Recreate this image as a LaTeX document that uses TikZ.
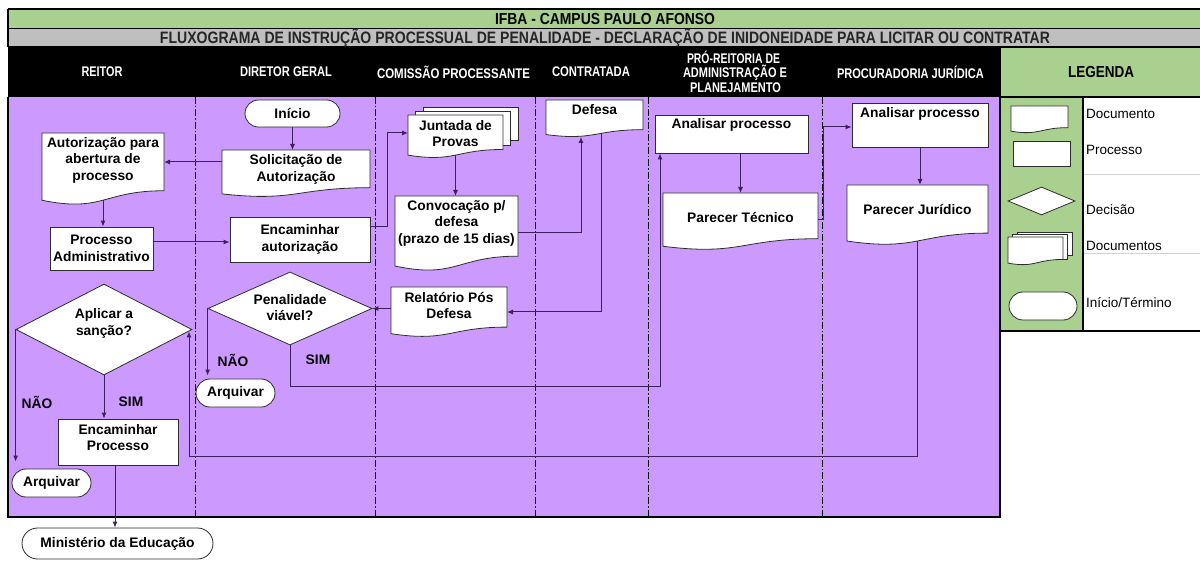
\documentclass[tikz,border=0pt]{standalone}
\usepackage{fontspec}
\setmainfont{Liberation Sans}
\usepackage{graphicx}
\usetikzlibrary{shapes.geometric,shapes.misc,arrows.meta,calc}
\definecolor{tgreen}{RGB}{169,208,142}
\definecolor{tgray}{RGB}{191,191,191}
\definecolor{tpurple}{RGB}{204,153,255}
\definecolor{conn}{RGB}{62,32,92}
\definecolor{outl}{RGB}{45,45,45}
\pgfdeclarelayer{bg}\pgfdeclarelayer{shp}\pgfsetlayers{bg,shp,main}
\newcommand\nf{\fontsize{13.8}{16.5}\selectfont\bfseries}
\newcommand\hf{\fontsize{14}{16}\selectfont\bfseries}
\newcommand\lf{\fontsize{13.5}{15}\selectfont}
\newcommand\docoutline[1]{%
  \path[docline] (#1.north west) -- (#1.north east) -- ($(#1.north east)!0.802!(#1.south east)$)
    .. controls ($(#1.north)!0.802!(#1.south)$) and ($(#1.north)!1.1075!(#1.south)$) ..
    ($(#1.north west)!0.934!(#1.south west)$) -- cycle;}
\newcommand\docback[4]{\path[docline] ($(#1.north west)+(#2,-#3)$) rectangle ($(#1.north east)+(#2,#4)$);}
\begin{document}
\begin{tikzpicture}[x=1pt,y=-1pt,
  txt/.style={font=\nf, align=center, inner sep=0pt, text=black},
  proc/.style={rectangle, draw=outl, fill=white, line width=0.8pt, inner sep=0pt, font=\nf, align=center},
  term/.style={rounded rectangle, draw=outl, fill=white, line width=0.8pt, inner sep=0pt, font=\nf},
  dia/.style={diamond, draw=outl, fill=white, line width=0.8pt, inner sep=0pt},
  docbb/.style={rectangle, draw=none, inner sep=0pt, outer sep=0pt},
  docline/.style={draw=outl, fill=white, line width=0.8pt},
  arr/.style={draw=conn, line width=1pt, -{Latex[length=6pt,width=5pt]}},
  lanediv/.style={draw=black, line width=0.7pt, dash pattern=on 7pt off 2pt on 1.5pt off 2pt},
  hdr/.style={text=white, font=\hf, inner sep=0pt},
  lgtxt/.style={font=\lf, anchor=west, inner sep=0pt}]
\useasboundingbox (0,0) rectangle (1200,561);

\begin{pgfonlayer}{bg}
  \fill[white] (0,0) rectangle (1200,561);
  \fill[tpurple] (8,97) rectangle (1000,517);
  \foreach \x in {195,375,535,648,822} \draw[lanediv] (\x,97) -- (\x,517);
  \draw[line width=2pt] (8,97) -- (8,517) -- (1000,517) -- (1000,97);
  \fill[tgreen] (8,9) rectangle (1200,28.5);
  \fill[tgray] (8,28.5) rectangle (1200,47);
  \fill[black] (8,47) rectangle (1000,97);
  \fill[tgreen] (1000,47) rectangle (1200,97);
  \fill[tgreen] (1000,97) rectangle (1083,331);
  \draw[line width=1.5pt] (8,9) -- (1200,9) (8,28.5) -- (1200,28.5) (8,47) -- (1200,47) (8,9) -- (8,47);
  \draw[gray!35, line width=0.6pt] (1083,174) -- (1200,174) (1083,253) -- (1200,253);
  \draw[line width=2pt] (1000,97) -- (1200,97) (1000,47) -- (1000,332) (1083,97) -- (1083,332) (999,331) -- (1200,331);
\end{pgfonlayer}

% titles and headers
\node[font=\fontsize{16}{18}\selectfont\bfseries, inner sep=0pt] (t1) at (605,19) {\resizebox{220pt}{\height}{IFBA - CAMPUS PAULO AFONSO}};
\node[font=\fontsize{16.5}{18}\selectfont\bfseries, inner sep=0pt, text=black!85] (t2) at (605,38) {\resizebox{890pt}{\height}{FLUXOGRAMA DE INSTRUÇÃO PROCESSUAL DE PENALIDADE - DECLARAÇÃO DE INIDONEIDADE PARA LICITAR OU CONTRATAR}};
\node[hdr] (h1) at (102,72) {\resizebox{41pt}{\height}{REITOR}};
\node[hdr] (h2) at (286,72) {\resizebox{92pt}{\height}{DIRETOR GERAL}};
\node[hdr] (h3) at (453.5,72) {\resizebox{153pt}{\height}{COMISSÃO PROCESSANTE}};
\node[hdr] (h4) at (591,72) {\resizebox{78pt}{\height}{CONTRATADA}};
\node[hdr] (h5a) at (733.5,57) {\resizebox{93pt}{\height}{PRÓ-REITORIA DE}};
\node[hdr] (h5b) at (735,73) {\resizebox{104pt}{\height}{ADMINISTRAÇÃO E}};
\node[hdr] (h5c) at (735.5,88) {\resizebox{91pt}{\height}{PLANEJAMENTO}};
\node[hdr] (h6) at (910.5,72) {\resizebox{147pt}{\height}{PROCURADORIA JURÍDICA}};
\node[font=\fontsize{16}{18}\selectfont\bfseries, inner sep=0pt] (h7) at (1101,72) {\resizebox{66pt}{\height}{LEGENDA}};

% nodes
\node[term, minimum width=95pt, minimum height=27pt] (inicio) at (292.5,113.5) {Início};
\node[docbb, minimum width=148pt, minimum height=47pt] (sol) at (296,173.5) {};
\node[docbb, minimum width=122pt, minimum height=72pt] (aut) at (103,169) {};
\node[proc, minimum width=103pt, minimum height=43pt] (padm) at (101.5,248.5) {Processo\\Administrativo};
\node[proc, minimum width=140pt, minimum height=45pt] (enc) at (300,239.5) {Encaminhar\\autorização};
\node[docbb, minimum width=95pt, minimum height=43pt] (junt) at (455.5,136.5) {};
\node[docbb, minimum width=123pt, minimum height=75pt] (conv) at (456.5,233.5) {};
\node[docbb, minimum width=97pt, minimum height=37pt] (defesa) at (594.5,118.5) {};
\node[docbb, minimum width=116pt, minimum height=50pt] (rel) at (449,312) {};
\node[dia, minimum width=164pt, minimum height=73pt] (pen) at (290,308.5) {};
\node[term, minimum width=79pt, minimum height=28pt] (arq2) at (235.5,393) {Arquivar};
\node[dia, minimum width=176pt, minimum height=91pt] (apl) at (104,329.5) {};
\node[proc, minimum width=120pt, minimum height=46pt] (encp) at (118,442) {};
\node[term, minimum width=79pt, minimum height=28pt] (arq1) at (51.5,483) {Arquivar};
\node[term, minimum width=191pt, minimum height=31pt] (min) at (117.5,543.5) {Ministério da Educação};
\node[proc, minimum width=153pt, minimum height=38pt] (anp) at (731.5,134) {};
\node[docbb, minimum width=155pt, minimum height=57pt] (pt) at (740.5,221.5) {};
\node[proc, minimum width=136pt, minimum height=44pt] (anj) at (920,125) {};
\node[docbb, minimum width=141pt, minimum height=60pt] (pj) at (917.5,215) {};

% legend shapes
\node[docbb, minimum width=57pt, minimum height=27pt] (lgdoc) at (1039.5,119.5) {};
\node[proc, minimum width=57pt, minimum height=25pt] (lgproc) at (1041.5,153.5) {};
\node[dia, minimum width=67pt, minimum height=28pt] (lgdec) at (1041.5,201) {};
\node[docbb, minimum width=55pt, minimum height=28pt] (lgdocs) at (1035.5,251) {};
\node[term, minimum width=68pt, minimum height=28pt] (lgterm) at (1043,306) {};

\begin{pgfonlayer}{shp}
  \docoutline{sol}
  \docoutline{aut}
  \docback{junt}{15}{8}{25}
  \docback{junt}{7.5}{4}{30}
  \docoutline{junt}
  \docoutline{conv}
  \docoutline{defesa}
  \docoutline{rel}
  \docoutline{pt}
  \docoutline{pj}
  \docoutline{lgdoc}
  \docback{lgdocs}{9}{5}{18}
  \docback{lgdocs}{4.5}{2.5}{22}
  \docoutline{lgdocs}
\end{pgfonlayer}

% texts of shapes
\node[txt] (sol-t) at (296,169.5) {Solicitação de\\Autorização};
\node[txt] (aut-t) at (103,160) {Autorização para\\abertura de\\processo};
\node[txt] (junt-t) at (455.5,133.5) {Juntada de\\Provas};
\node[txt] (conv-t) at (456.5,223) {Convocação p/\\defesa\\(prazo de 15 dias)};
\node[txt] (defesa-t) at (594.5,110) {Defesa};
\node[txt] (rel-t) at (449,305.5) {Relatório Pós\\Defesa};
\node[txt] (pen-t) at (290,307.5) {Penalidade\\viável?};
\node[txt] (apl-t) at (104,323.5) {Aplicar a\\sanção?};
\node[txt] (encp-t) at (118,437.5) {Encaminhar\\Processo};
\node[txt] (anp-t) at (731.5,125) {Analisar processo};
\node[txt] (pt-t) at (740.5,218) {Parecer Técnico};
\node[txt] (anj-t) at (920,114) {Analisar processo};
\node[txt] (pj-t) at (917.5,210) {Parecer Jurídico};
\node[txt] (nao1) at (37,402) {NÃO};
\node[txt] (sim1) at (131,402) {SIM};
\node[txt] (nao2) at (233,360) {NÃO};
\node[txt] (sim2) at (318,360) {SIM};

% legend labels
\node[lgtxt] (lg1) at (1086,114) {Documento};
\node[lgtxt] (lg2) at (1086,150) {Processo};
\node[lgtxt] (lg3) at (1086,210) {Decisão};
\node[lgtxt] (lg4) at (1086,246) {Documentos};
\node[lgtxt] (lg5) at (1086,303) {Início/Término};

% helper rows / columns
\coordinate (r162) at (0,162);
\coordinate (r242) at (0,242);
\coordinate (r227) at (0,227);
\coordinate (r133) at (0,133);
\coordinate (r233) at (0,233);
\coordinate (r312) at (0,312);
\coordinate (r387) at (0,387);
\coordinate (r220) at (0,220);
\coordinate (r127) at (0,127);
\coordinate (r456) at (0,456);
\coordinate (r331) at (0,331.5);
\coordinate (c387) at (387,0);
\coordinate (c581) at (581,0);
\coordinate (c660) at (660,0);
\coordinate (c823) at (823,0);
\coordinate (c189) at (189,0);
\coordinate (c115) at (115,0);
\coordinate (dfout) at ($(defesa.south west)!0.577!(defesa.south east)+(0,-4)$);

% connectors
\draw[arr] (inicio.south) -- (inicio.south |- sol.north);
\draw[arr] (sol.west |- r162) -- (aut.east |- r162);
\draw[arr] ($(aut.north)!0.93!(aut.south)$) -- (aut.south |- padm.north);
\draw[arr] (padm.east |- r242) -- (enc.west |- r242);
\draw[arr] (enc.east |- r227) -| (c387 |- r133) -- (junt.west |- r133);
\draw[arr] ($(junt.north)!0.93!(junt.south)$) -- (junt.south |- conv.north);
\draw[arr] (conv.east |- r233) -| (c581 |- defesa.south);
\draw[arr] (dfout) |- (rel.east |- r312);
\draw[arr] (rel.west |- pen.east) -- (pen.east);
\draw[arr, shorten >=3pt] (pen.west) -- (pen.west |- arq2.north);
\draw[arr] (pen.south) |- (c660 |- r387) -- (c660 |- anp.south);
\draw[arr] (pt.north |- anp.south) -- (pt.north);
\draw[arr] (pt.east |- r220) -| (c823 |- r127) -- (anj.west |- r127);
\draw[arr] (anj.south) -- (anj.south |- pj.north);
\draw[arr] ($(pj.north)!0.93!(pj.south)$) |- (c189 |- r456) -- (c189 |- r331);
\draw[arr, shorten >=7pt] (apl.west) -- (apl.west |- arq1.north);
\draw[arr] (apl.south) -- (apl.south |- encp.north);
\draw[arr] (c115 |- encp.south) -- (c115 |- min.north);
\end{tikzpicture}
\end{document}
